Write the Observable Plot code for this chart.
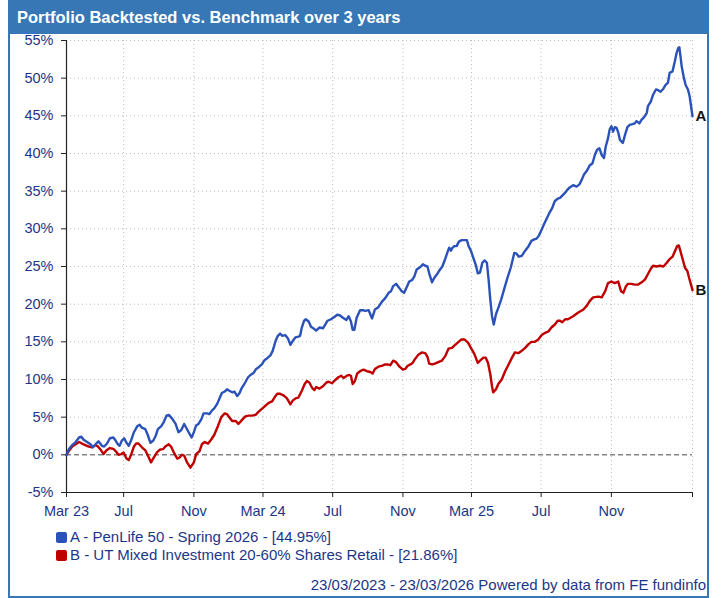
<!DOCTYPE html>
<html>
<head>
<meta charset="utf-8">
<script src="https://cdn.jsdelivr.net/npm/d3@7"></script>
<script src="https://cdn.jsdelivr.net/npm/@observablehq/plot@0.6"></script>
<style>
  html, body { margin: 0; padding: 0; background: #fff; }
  #page { position: relative; width: 725px; height: 598px; overflow: hidden; background: #fff;
          font-family: "Liberation Sans", Arial, sans-serif; }
  #frame { position: absolute; left: 8px; top: 0; width: 701px; height: 598px; box-sizing: border-box;
           border: 2px solid #3777b6; }
  #titlebar { position: absolute; left: 8px; top: 0; width: 701px; height: 34px; background: #3777b6; }
  #title { position: absolute; left: 17px; top: 8px; color: #fff; font-weight: bold; font-size: 16.5px;
           line-height: 19px; white-space: nowrap; }
  #chart { position: absolute; left: 0; top: 34px; }
  .leg { position: absolute; left: 56px; font-size: 15px; line-height: 18px; color: #1c3687; white-space: nowrap; }
  .sw { display: inline-block; width: 11px; height: 11px; border-radius: 2px; margin-right: 3px; vertical-align: -1px; }
  #footer { position: absolute; right: 19px; top: 576px; font-size: 15px; line-height: 18px; color: #1c3687; white-space: nowrap; }
</style>
</head>
<body>
<div id="page">
  <div id="frame"></div>
  <div id="titlebar"></div>
  <div id="title"></div>
  <div id="chart"></div>
  <div id="legend"></div>
  <div id="footer"></div>
</div>
<script>
// ---------- data ----------
const titleText = "Portfolio Backtested vs. Benchmark over 3 years";
const footerText = "23/03/2023 - 23/03/2026 Powered by data from FE fundinfo";
const seriesNames = ["A - PenLife 50 - Spring 2026 - [44.95%]", "B - UT Mixed Investment 20-60% Shares Retail - [21.86%]"];
const seriesLetters = ["A", "B"];
const seriesColors = ["#2a52b8", "#c00000"];
const startISO = "2023-03-23";
const endISO = "2026-03-23";

// days since 23/03/2023 and cumulative % return
const penlifeDays = [0,4,10,16,22,26,30,36,42,46,51,56,62,66,71,76,82,86,90,93,97,101,105,109,113,118,124,128,132,138,142,147,152,156,160,166,170,175,179,185,191,196,201,206,211,
219,223,227,231,236,240,246,250,255,259,264,268,272,277,281,285,290,294,299,303,307,312,318,322,328,332,336,342,347,351,357,361,366,370,374,378,383,388,392,396,401,406,409,412,416,419,424,428,434,
437,443,449,453,457,463,469,474,479,484,490,494,498,501,504,508,514,519,523,529,535,540,546,552,558,564,568,572,577,581,587,591,596,600,605,609,613,619,624,628,632,635,640,644,648,654,
658,663,668,670,673,676,679,683,687,692,698,701,704,708,712,717,720,724,728,732,736,739,742,745,748,752,756,761,767,772,778,784,788,792,797,803,809,814,819,823,827,832,836,841,846,850,855,860,864,868,873,
876,881,887,893,898,902,906,911,916,921,925,929,933,937,941,944,948,951,954,957,960,963,966,969,974,978,982,986,991,995,998,1003,1007,1011,1016,1018,1023,1027,1032,1036,1040,1045,1049,1053,1056,1061,1065,1068,1071,1073,1075,1077,1081,1084,1088,1091,1096];
const penlifePct = [0,0.75,1.3,1.7,2.3,2.4,2.0,1.7,1.4,1.0,1.4,1.8,1.2,1.1,1.5,2.2,2.3,1.9,1.4,1.2,1.9,2.2,1.6,1.2,1.9,3.0,3.8,4.0,3.6,3.4,2.7,1.6,1.9,2.5,3.4,3.8,4.3,5.2,5.3,4.8,4.1,3.0,3.3,4.1,3.4,
2.3,3.0,3.9,4.1,4.7,5.5,5.5,5.4,5.9,6.2,6.8,7.5,8.2,8.4,8.7,8.5,8.3,8.4,7.8,8.2,8.9,9.5,10.3,10.6,10.9,11.4,11.6,12.0,12.6,12.8,13.2,13.8,15.1,15.8,16.1,15.8,15.9,15.4,14.6,15.1,15.6,15.7,15.8,16.9,17.8,18.0,17.7,17.0,16.7,
16.5,16.9,16.8,17.3,17.8,18.0,18.3,18.6,18.5,18.2,17.9,18.4,17.7,16.6,16.6,18.2,19.2,19.2,19.1,19.2,18.1,19.3,19.6,20.3,20.8,21.5,21.7,22.4,22.7,22.3,21.7,21.5,22.3,23.0,23.2,23.7,24.6,24.9,25.3,25.1,25.0,24.1,22.9,23.5,23.9,24.6,
25.0,26.0,27.1,27.5,27.1,27.5,27.7,27.7,28.3,28.5,28.5,28.5,27.7,27.1,26.2,25.1,24.1,24.2,25.5,25.8,25.5,23.3,20.6,18.4,17.3,18.7,19.5,20.6,22.2,23.5,24.9,26.8,26.7,26.3,26.4,27.1,27.7,28.4,28.6,28.7,29.1,29.9,30.6,31.4,32.2,32.7,33.7,34.0,34.1,34.4,34.8,
35.1,35.5,35.8,35.6,35.9,36.5,37.2,37.7,38.4,38.7,39.8,40.5,40.7,39.8,39.4,40.9,42.0,43.2,43.6,42.9,43.5,43.4,42.8,41.8,41.4,42.5,43.5,43.8,43.9,44.0,44.3,44.0,44.5,44.8,45.4,46.3,46.9,47.8,48.5,48.4,48.2,48.6,49.1,49.4,50.7,50.9,52.2,53.3,54.0,54.1,52.9,51.6,50.0,49.1,48.5,47.6,44.95];

const utDays = [0,4,10,16,22,27,33,39,45,51,55,59,65,70,76,82,86,91,96,100,105,109,113,118,122,126,132,138,143,148,153,159,164,169,173,179,183,188,194,198,202,206,211,217,
223,227,233,237,242,248,254,259,265,271,277,281,285,290,296,301,307,313,319,325,331,336,342,348,354,360,364,369,374,380,386,392,396,401,406,412,417,421,425,430,434,
437,443,449,455,459,465,470,476,481,485,491,495,498,501,505,509,514,520,526,532,536,540,546,552,558,562,567,572,577,583,589,593,597,602,606,610,616,622,628,632,635,640,645,651,
657,663,669,675,679,685,691,697,703,708,714,720,724,730,734,738,742,745,747,752,756,762,768,774,780,785,791,797,803,809,814,820,826,832,838,844,849,855,860,864,868,873,
878,887,896,905,911,916,922,
931,937,943,948,954,960,966,971,975,979,983,989,995,1001,1007,1013,1018,1023,1027,1033,1039,1045,1051,1055,1061,1065,1069,1072,1075,1079,1083,1087,1090,1096];
const utPct = [0,0.5,1.1,1.4,1.7,1.5,1.3,1.1,1.0,1.3,1.1,0.75,0.1,0.6,0.9,0.8,0.5,0,0.1,0.3,-0.5,-0.7,0,1.1,1.5,1.5,1.0,0.6,-0.2,-1.0,-0.35,0.4,0.7,0.75,1.1,1.4,1.1,0.3,-0.5,-0.35,0,-0.1,-1.0,-1.7,
-1.0,0.1,0.5,1.4,1.7,1.5,2.1,2.7,3.8,5.0,5.5,5.4,5.0,4.5,4.5,4.1,4.6,5.1,5.2,5.2,5.3,5.7,6.1,6.5,6.9,7.1,7.6,8.1,8.1,7.9,7.5,6.7,7.2,7.5,7.6,8.5,9.4,9.8,9.6,8.9,8.6,
9.0,8.8,9.1,9.6,9.7,9.5,9.9,10.3,10.5,10.2,10.5,10.6,10.5,9.4,9.8,10.8,11.1,11.3,11.1,11.0,10.8,11.4,11.7,11.8,12.0,12.0,11.9,12.5,12.3,11.7,11.3,11.4,11.8,12.0,12.2,12.7,13.3,13.6,13.5,13.0,12.1,12.0,12.1,12.3,
12.5,13.1,14.1,14.2,14.5,14.9,15.3,15.3,14.9,14.2,13.4,12.2,12.5,12.9,12.9,12.2,10.7,9.1,8.3,8.7,9.4,10.0,11.1,12.0,12.9,13.6,13.5,13.8,14.2,14.7,15.0,15.0,15.3,15.9,16.2,16.4,16.9,17.3,17.8,17.8,17.6,18.0,
18.0,18.4,18.9,19.3,19.8,20.4,20.9,
21.0,20.9,21.7,22.8,23.0,22.8,23.0,21.7,21.5,22.3,22.7,22.7,22.6,22.6,22.9,23.3,24.0,24.7,25.1,25.0,25.1,25.0,25.5,25.9,26.3,27.0,27.7,27.8,27.0,25.9,24.8,24.4,23.5,21.86];

const yTicks = [-5,0,5,10,15,20,25,30,35,40,45,50,55];
const xTickDates = ["2023-03-23","2023-07-01","2023-11-01","2024-03-01","2024-07-01","2024-11-01","2025-03-01","2025-07-01","2025-11-01","2026-03-23"];
const xTickLabels = ["Mar 23","Jul","Nov","Mar 24","Jul","Nov","Mar 25","Jul","Nov",""];

// ---------- build ----------
const parse = d3.utcParse("%Y-%m-%d");
const start = parse(startISO), end = parse(endISO);
const toRows = (days, pct) => days.map((d, i) => ({date: new Date(+start + d * 864e5), pct: pct[i]}));
const rowsA = toRows(penlifeDays, penlifePct);
const rowsB = toRows(utDays, utPct);
const tickDates = xTickDates.map(parse);
const labelMap = new Map(tickDates.map((d, i) => [+d, xTickLabels[i]]));
const textColor = "#1c3687";

document.getElementById("title").textContent = titleText;
document.getElementById("footer").textContent = footerText;

const chart = Plot.plot({
  width: 725,
  height: 490,
  marginTop: 6,
  marginBottom: 32,
  marginLeft: 66,
  marginRight: 33,
  style: {fontFamily: "'Liberation Sans', Arial, sans-serif", fontSize: "14.5px", background: "transparent", overflow: "visible", color: "#222"},
  x: {type: "utc", domain: [start, end]},
  y: {domain: [-5, 55]},
  marks: [
    Plot.gridY(yTicks.filter(v => v > 0), {stroke: "#bdbdbd", strokeOpacity: 1, strokeDasharray: "1,3"}),
    Plot.gridX(tickDates.slice(1), {stroke: "#bdbdbd", strokeOpacity: 1, strokeDasharray: "1,3"}),
    Plot.ruleY([0], {stroke: "#444", strokeDasharray: "5,3"}),
    Plot.ruleY([-5], {stroke: "#222", strokeWidth: 1.2}),
    Plot.ruleX([start], {y1: -5, y2: 55, stroke: "#222", strokeWidth: 1.2}),
    Plot.axisY(yTicks, {tickSize: 5, tickPadding: 8, tickFormat: d => d + "%", fill: textColor, stroke: "#222", label: null}),
    Plot.axisX(tickDates, {tickSize: 5, tickPadding: 8, tickFormat: d => labelMap.get(+d), fill: textColor, stroke: "#222", label: null}),
    Plot.line(rowsB, {x: "date", y: "pct", stroke: seriesColors[1], strokeWidth: 2.4}),
    Plot.line(rowsA, {x: "date", y: "pct", stroke: seriesColors[0], strokeWidth: 2.4}),
    Plot.text([rowsA[rowsA.length - 1], rowsB[rowsB.length - 1]], {x: "date", y: "pct", text: (d, i) => seriesLetters[i], dx: 3, textAnchor: "start", fontWeight: "bold", fontSize: 15, fill: "#111"})
  ]
});
document.getElementById("chart").appendChild(chart);

const legend = document.getElementById("legend");
seriesNames.forEach((name, i) => {
  const row = document.createElement("div");
  row.className = "leg";
  row.style.top = (528 + i * 18) + "px";
  const sw = document.createElement("span");
  sw.className = "sw";
  sw.style.background = seriesColors[i];
  row.appendChild(sw);
  row.appendChild(document.createTextNode(name));
  legend.appendChild(row);
});
</script>
</body>
</html>
